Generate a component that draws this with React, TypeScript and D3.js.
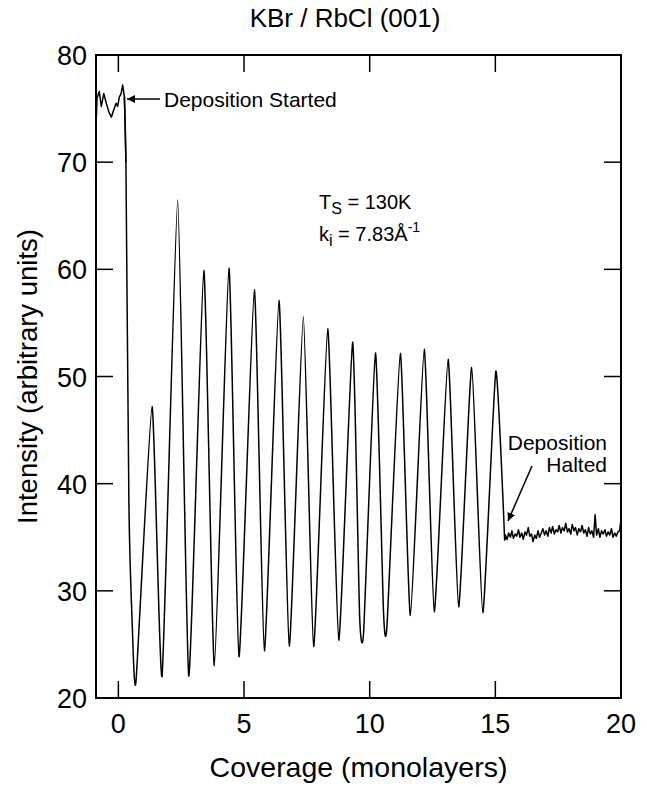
import React from "react";
import * as d3 from "d3";

// Pre-deposition noisy baseline
const preX = [-0.89, -0.87, -0.85, -0.76, -0.68, -0.58, -0.48, -0.38, -0.28, -0.19, -0.09, -0.03, 0.04, 0.11, 0.17, 0.24];
const preY = [77.8, 74.4, 75.97, 76.6, 75.2, 76.4, 75.5, 74.7, 74.2, 74.85, 75.5, 75.2, 76.1, 76.4, 77.2, 76.1];

// Oscillations during deposition (peaks, minima and a few shoulders)
const oscX = [0.30, 0.42, 0.55, 0.70, 1.34, 1.74, 2.36, 2.80, 3.40, 3.82, 4.40, 4.80, 5.41, 5.81, 6.39, 6.80, 7.36, 7.77, 8.33, 8.77, 9.32, 9.60, 9.76, 10.23, 10.55, 10.69, 11.22, 11.62, 12.17, 12.57, 13.12, 13.54, 14.06, 14.50, 15.02, 15.37];
const oscY = [70, 38, 27, 21.5, 47.2, 22.05, 66.5, 22.05, 59.9, 23.0, 60.1, 23.85, 58.1, 24.4, 57.1, 24.85, 55.6, 24.8, 54.45, 25.4, 53.2, 27.6, 26.2, 52.2, 28.05, 26.8, 52.15, 27.7, 52.55, 28.05, 51.6, 28.5, 50.85, 27.95, 50.5, 34.7];

// After deposition halted
const postX = [15.40, 15.47, 15.53, 15.60, 15.66, 15.72, 15.79, 15.85, 15.92, 15.98, 16.05, 16.11, 16.18, 16.24, 16.31, 16.37, 16.44, 16.50, 16.57, 16.63, 16.70, 16.76, 16.83, 16.89, 16.96, 17.02, 17.09, 17.15, 17.22, 17.28, 17.35, 17.41, 17.48, 17.54, 17.61, 17.67, 17.74, 17.80, 17.87, 17.93, 18.00, 18.06, 18.13, 18.19, 18.26, 18.32, 18.39, 18.45, 18.52, 18.58, 18.65, 18.71, 18.78, 18.84, 18.91, 18.97, 19.03, 19.10, 19.16, 19.23, 19.29, 19.36, 19.42, 19.49, 19.55, 19.62, 19.68, 19.75, 19.81, 19.88, 19.94, 20.00];
const postY = [35.2, 34.8, 35.4, 35.0, 35.6, 34.9, 35.3, 35.1, 35.7, 35.0, 35.4, 34.8, 35.5, 35.2, 35.9, 35.1, 35.3, 34.6, 35.2, 34.9, 35.6, 35.0, 35.4, 35.8, 35.2, 35.6, 35.1, 35.9, 35.4, 36.0, 35.3, 35.7, 35.5, 36.1, 35.4, 35.9, 35.6, 36.3, 35.5, 35.8, 35.3, 36.2, 35.6, 35.9, 35.2, 35.8, 35.5, 36.1, 35.4, 35.7, 35.1, 35.9, 35.3, 35.6, 35.0, 37.1, 35.2, 35.8, 35.0, 35.6, 35.3, 35.7, 35.1, 35.5, 35.2, 35.8, 35.0, 35.4, 35.1, 35.5, 35.6, 36.6];

const xTicks = [0, 5, 10, 15, 20];
const yTicks = [20, 30, 40, 50, 60, 70, 80];

const W = 647, H = 787;
const L = 96, R = 621, T = 55, B = 698;
const FONT = "Liberation Sans, Arial, Helvetica, sans-serif";

type P = [number, number];

export default function App() {
  const x = d3.scaleLinear().domain([-0.89, 20]).range([L, R]);
  const y = d3.scaleLinear().domain([20, 80]).range([B, T]);

  const pre: P[] = preX.map((v, i) => [v, preY[i]]);
  const osc: P[] = oscX.map((v, i) => [v, oscY[i]]);
  const post: P[] = postX.map((v, i) => [v, postY[i]]);

  const lineLin = d3.line<P>().x(d => x(d[0])).y(d => y(d[1]));
  const lineCard = d3.line<P>().x(d => x(d[0])).y(d => y(d[1])).curve(d3.curveCardinal.tension(0.5));
  const tl = 17;

  const pathPre = lineLin([...pre, osc[0]]) || "";
  const pathOsc = lineCard([pre[pre.length - 1], ...osc]) || "";
  const pathPost = lineLin([osc[osc.length - 1], ...post]) || "";

  return (
    <svg width={W} height={H} style={{ position: "absolute", left: 0, top: 0, background: "#fff" }} fontFamily={FONT}>
      <defs>
        <marker id="ah" viewBox="0 0 10 10" refX="10" refY="5" markerWidth="15" markerHeight="8" markerUnits="userSpaceOnUse" orient="auto">
          <path d="M0,0 L10,5 L0,10 z" fill="#000" />
        </marker>
        <clipPath id="plot"><rect x={L} y={T} width={R - L} height={B - T} /></clipPath>
      </defs>
      <rect width={W} height={H} fill="#fff" />
      <text x={345} y={27} textAnchor="middle" fontSize={26}>KBr / RbCl (001)</text>

      {xTicks.map(t => (
        <g key={"x" + t}>
          <line x1={x(t)} x2={x(t)} y1={B} y2={B - tl} stroke="#000" strokeWidth={1.5} />
          <line x1={x(t)} x2={x(t)} y1={T} y2={T + tl} stroke="#000" strokeWidth={1.5} />
          <text x={x(t)} y={B + 35} textAnchor="middle" fontSize={27}>{t}</text>
        </g>
      ))}
      {yTicks.map(t => (
        <g key={"y" + t}>
          <line x1={L} x2={L + tl} y1={y(t)} y2={y(t)} stroke="#000" strokeWidth={1.5} />
          <line x1={R} x2={R - tl} y1={y(t)} y2={y(t)} stroke="#000" strokeWidth={1.5} />
          <text x={L - 9} y={y(t) + 10} textAnchor="end" fontSize={27}>{t}</text>
        </g>
      ))}
      <rect x={L} y={T} width={R - L} height={B - T} fill="none" stroke="#000" strokeWidth={2} />

      <g clipPath="url(#plot)" fill="none" stroke="#000" strokeWidth={1.5} strokeLinejoin="round">
        <path d={pathPre} />
        <path d={pathOsc} />
        <path d={pathPost} />
      </g>

      <line x1={160} y1={99} x2={127} y2={99} stroke="#000" strokeWidth={1.3} markerEnd="url(#ah)" />
      <text x={164} y={106.5} fontSize={21}>Deposition Started</text>

      <text x={607} y={450} textAnchor="end" fontSize={21}>Deposition</text>
      <text x={607} y={472} textAnchor="end" fontSize={21}>Halted</text>
      <line x1={532} y1={466} x2={508} y2={521} stroke="#000" strokeWidth={1.5} markerEnd="url(#ah)" />

      <text x={319} y={209} fontSize={20}>
        T<tspan fontSize={16} dy={5}>S</tspan><tspan dy={-5}> = 130K</tspan>
      </text>
      <text x={319} y={241} fontSize={20}>
        k<tspan fontSize={16} dy={5}>i</tspan><tspan dy={-5}> = 7.83Å</tspan><tspan fontSize={14} dy={-9}>-1</tspan>
      </text>

      <text x={(L + R) / 2} y={777} textAnchor="middle" fontSize={28.5}>Coverage (monolayers)</text>
      <text transform={`translate(37, ${(T + B) / 2}) rotate(-90)`} textAnchor="middle" fontSize={27.5}>Intensity (arbitrary units)</text>
    </svg>
  );
}
